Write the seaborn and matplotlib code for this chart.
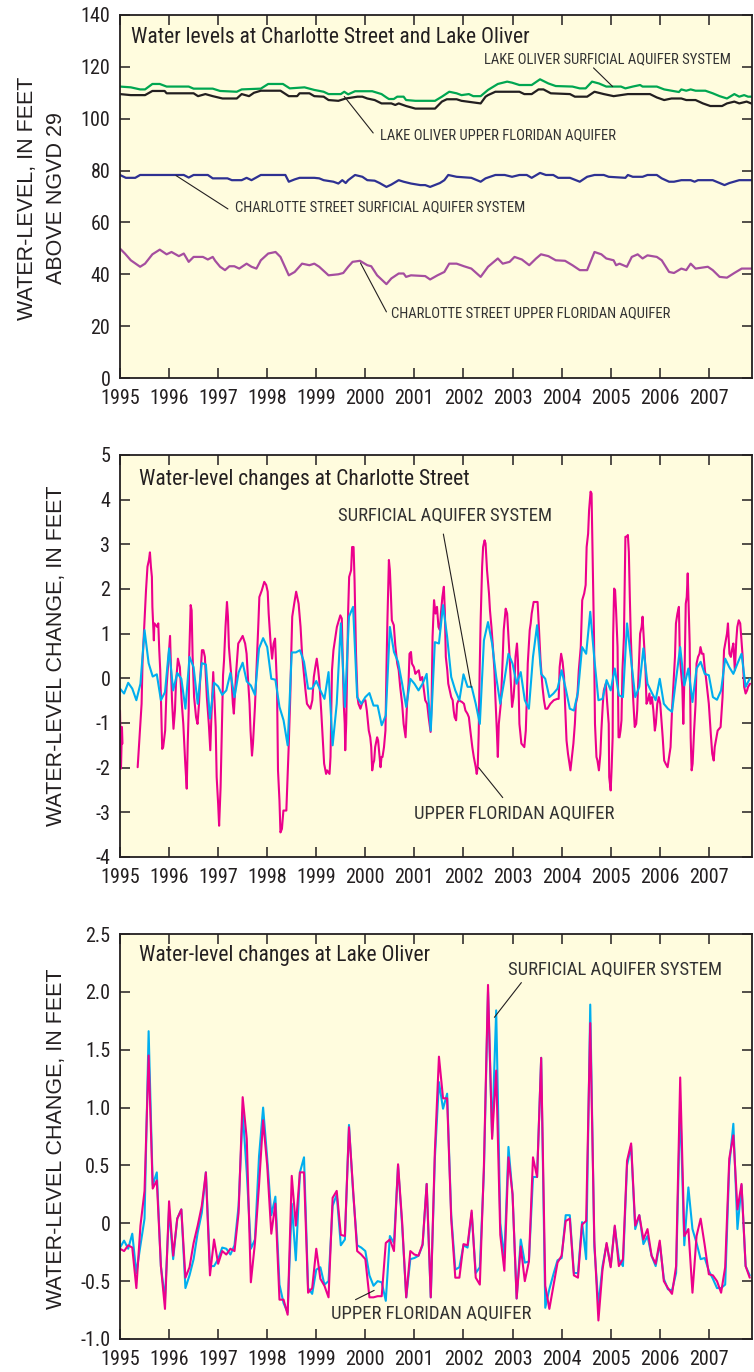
import numpy as np
import pandas as pd
import matplotlib
matplotlib.use("Agg")
import matplotlib.pyplot as plt
import seaborn as sns
from matplotlib import font_manager

# ---------------- DATA ----------------
year_ticks = list(range(1995, 2008))
year_labels = [str(y) for y in year_ticks]

# Panel 1: water levels (years since 1995, feet above NGVD 29)
lo_sas_t = [0.00, 0.22, 0.41, 0.51, 0.66, 0.81, 0.95, 1.40, 1.50, 1.89, 2.04, 2.38, 2.48, 2.87, 3.02, 3.32,
            3.46, 3.76, 3.96, 4.15, 4.25, 4.50, 4.57, 4.65, 4.79, 5.14, 5.33, 5.43, 5.48, 5.58, 5.65, 5.78,
            5.83, 6.02, 6.42, 6.56, 6.71, 6.86, 6.96, 7.11, 7.20, 7.35, 7.50, 7.70, 7.89, 7.99, 8.14, 8.39,
            8.56, 8.73, 8.88, 9.22, 9.37, 9.49, 9.62, 9.76, 9.91, 10.21, 10.30, 10.45, 10.60, 10.65, 10.94,
            11.09, 11.24, 11.39, 11.44, 11.54, 11.63, 11.73, 11.93, 12.08, 12.22, 12.37, 12.52, 12.62, 12.72,
            12.80, 12.89]
lo_sas_v = [112.4, 112.1, 111.3, 111.3, 113.4, 113.4, 112.4, 112.4, 111.6, 111.6, 110.7, 110.4, 111.3, 111.6,
            113.4, 113.4, 111.7, 112.1, 111.1, 110.4, 109.5, 109.5, 110.4, 109.4, 110.6, 110.6, 109.5, 108.2,
            107.6, 107.6, 108.5, 108.5, 107.2, 106.9, 106.9, 108.5, 110.4, 109.8, 109.1, 109.5, 108.7, 108.7,
            111.1, 113.4, 114.3, 113.9, 113.0, 113.0, 115.2, 113.6, 112.6, 112.4, 111.7, 111.7, 114.3, 113.6,
            112.4, 112.4, 111.7, 112.4, 113.0, 112.4, 112.4, 111.3, 110.8, 110.3, 111.3, 110.8, 111.3, 110.8,
            110.8, 109.8, 108.7, 107.8, 109.5, 108.5, 109.1, 108.5, 108.5]

lo_ufa_t = [0.00, 0.22, 0.51, 0.66, 0.91, 0.95, 1.50, 1.59, 1.74, 1.89, 2.09, 2.38, 2.48, 2.63, 2.73, 2.87,
            3.27, 3.44, 3.61, 3.66, 3.86, 3.96, 4.15, 4.25, 4.45, 4.60, 4.84, 4.94, 5.04, 5.19, 5.33, 5.53,
            5.61, 5.68, 5.83, 6.02, 6.42, 6.56, 6.66, 6.86, 6.96, 7.35, 7.45, 7.50, 7.65, 8.14, 8.24, 8.39,
            8.53, 8.63, 8.78, 9.17, 9.27, 9.52, 9.67, 9.86, 10.06, 10.35, 10.80, 10.94, 11.09, 11.24, 11.44,
            11.54, 11.73, 11.88, 12.03, 12.27, 12.37, 12.52, 12.62, 12.77, 12.89]
lo_ufa_v = [109.5, 109.1, 109.1, 110.7, 110.7, 109.8, 109.8, 108.7, 109.5, 108.7, 107.8, 107.8, 109.5, 108.7,
            110.0, 110.8, 110.8, 108.7, 108.7, 109.8, 109.8, 108.7, 108.5, 107.2, 106.9, 107.8, 108.5, 108.5,
            107.8, 107.2, 105.9, 105.9, 105.3, 105.9, 104.9, 103.9, 103.9, 106.6, 107.5, 107.5, 106.9, 105.9,
            108.5, 109.1, 110.4, 110.4, 109.5, 109.5, 111.3, 111.3, 109.8, 109.5, 108.5, 108.5, 110.4, 109.5,
            108.7, 109.5, 109.5, 108.2, 107.2, 107.8, 107.8, 107.2, 107.2, 105.9, 104.9, 104.9, 105.9, 106.6,
            105.9, 106.6, 105.7]

cs_sas_t = [0.00, 0.12, 0.31, 0.41, 1.30, 1.40, 1.50, 1.79, 1.89, 2.19, 2.28, 2.48, 2.58, 2.68, 2.87, 3.37,
            3.44, 3.56, 3.66, 3.96, 4.06, 4.15, 4.35, 4.45, 4.53, 4.60, 4.65, 4.79, 4.94, 5.04, 5.19, 5.29,
            5.43, 5.53, 5.68, 5.78, 5.93, 6.12, 6.22, 6.32, 6.52, 6.61, 6.69, 6.86, 7.16, 7.35, 7.45, 7.65,
            7.84, 7.99, 8.14, 8.29, 8.39, 8.56, 8.68, 8.83, 8.93, 9.17, 9.37, 9.52, 9.67, 9.86, 9.96, 10.30,
            10.35, 10.45, 10.65, 10.75, 10.94, 11.04, 11.19, 11.29, 11.44, 11.63, 11.71, 11.78, 12.08, 12.22,
            12.32, 12.42, 12.62, 12.89]
cs_sas_v = [78.3, 77.2, 77.2, 78.3, 78.3, 77.3, 78.3, 78.3, 77.0, 77.0, 76.3, 76.3, 77.2, 76.3, 78.3, 78.3,
            75.7, 76.6, 77.2, 77.2, 77.0, 76.3, 75.7, 75.0, 76.3, 75.2, 76.3, 78.3, 77.6, 76.3, 76.1, 75.2,
            73.7, 74.6, 76.3, 75.7, 75.0, 74.4, 74.4, 73.7, 75.2, 76.3, 78.3, 77.6, 77.2, 75.7, 77.0, 78.3,
            78.3, 77.6, 78.3, 78.3, 77.2, 79.1, 78.3, 78.3, 77.2, 77.2, 75.7, 77.6, 78.3, 78.3, 77.6, 77.2,
            78.3, 77.6, 77.6, 78.3, 78.3, 77.0, 75.7, 75.7, 76.3, 76.3, 75.7, 76.3, 76.3, 75.2, 74.4, 75.2,
            76.3, 76.3]

cs_ufa_t = [0.00, 0.10, 0.22, 0.41, 0.51, 0.66, 0.81, 0.95, 1.05, 1.20, 1.30, 1.40, 1.50, 1.69, 1.79, 1.89,
            1.94, 2.04, 2.14, 2.23, 2.33, 2.43, 2.58, 2.68, 2.78, 2.87, 3.02, 3.17, 3.27, 3.44, 3.56, 3.71,
            3.86, 3.96, 4.06, 4.25, 4.45, 4.55, 4.65, 4.74, 4.89, 5.04, 5.12, 5.24, 5.43, 5.53, 5.68, 5.78,
            5.83, 5.93, 6.22, 6.32, 6.47, 6.61, 6.71, 6.86, 7.01, 7.16, 7.35, 7.50, 7.70, 7.80, 7.94, 8.04,
            8.19, 8.34, 8.48, 8.58, 8.73, 8.88, 9.07, 9.22, 9.37, 9.52, 9.67, 9.81, 9.91, 10.06, 10.11, 10.18,
            10.33, 10.43, 10.55, 10.65, 10.75, 10.94, 11.04, 11.19, 11.29, 11.44, 11.54, 11.63, 11.73, 11.98,
            12.08, 12.22, 12.37, 12.52, 12.67, 12.89]
cs_ufa_v = [49.9, 48.0, 45.4, 42.9, 44.1, 47.7, 49.5, 47.7, 48.6, 47.0, 48.0, 44.8, 46.7, 46.7, 45.7, 46.7,
            45.2, 42.9, 41.6, 43.1, 43.1, 42.2, 44.1, 42.9, 42.2, 45.4, 48.0, 48.6, 46.7, 39.6, 40.9, 44.1,
            43.5, 44.1, 42.9, 39.6, 40.0, 40.5, 42.9, 44.8, 45.2, 43.5, 43.1, 39.6, 36.2, 38.4, 40.3, 40.3,
            39.0, 39.6, 39.3, 38.0, 39.6, 40.9, 44.1, 44.1, 43.1, 42.2, 39.0, 42.9, 46.1, 44.1, 44.8, 46.7,
            45.7, 43.5, 46.1, 47.7, 47.0, 45.4, 45.2, 43.5, 41.6, 41.6, 48.6, 47.7, 46.1, 45.4, 43.5, 44.1,
            42.9, 46.7, 47.7, 46.1, 47.3, 46.7, 45.4, 40.9, 40.5, 42.2, 41.6, 44.1, 42.2, 42.9, 41.6, 39.0,
            38.7, 40.5, 42.2, 42.2]

# Monthly series start January 1995
n_months = 155
month_years = 1995 + np.arange(n_months) / 12.0

# Panel 2: Charlotte Street changes
cs_sas_chg = [-0.23, -0.34, -0.10, -0.23, -0.49, -0.12, 1.08, 0.34, 0.04, 0.09, -0.49, -0.31,
              0.67, -0.27, 0.12, -0.01, -0.68, 0.48, 0.25, -0.57, 0.34, 0.31, -0.90, -0.10,
              -0.18, -0.37, -0.27, 0.12, -0.42, 0.13, 0.35, -0.07, -0.16, -0.37, 0.67, 0.90,
              0.70, -0.01, -0.03, -0.64, -0.94, -1.50, 0.58, 0.58, 0.63, 0.37, -0.23, -0.23,
              -0.06, -0.27, -0.46, 0.14, -1.50, -0.57, 1.23, -0.64, 1.38, 1.60, -0.42, -0.57,
              -0.42, -0.33, -0.61, -0.61, -1.05, -0.83, 1.15, 0.59, 0.37, -0.12, -0.64, -0.01,
              -0.12, -0.27, -0.12, 0.10, -1.17, 0.81, 0.78, 1.64, 0.93, 0.03, -0.27, -0.49,
              0.09, -0.19, -0.19, -0.57, -1.02, 0.85, 1.26, 0.78, 0.03, -0.57, -0.04, 0.55,
              0.33, -0.12, 0.14, -0.49, -0.68, 0.48, 1.19, 0.10, -0.01, -0.42, -0.34, -0.23,
              0.18, -0.23, -0.68, -0.72, -0.31, 0.70, 0.55, 1.49, 0.44, -0.49, -0.46, -0.04,
              -0.27, 0.22, -0.38, -0.42, 1.23, 0.40, -0.42, -0.19, 0.67, -0.12, -0.31, -0.49,
              -0.01, -0.57, -0.68, -0.75, -0.01, 0.70, -0.16, 0.22, -0.53, 0.22, 0.37, 0.10,
              0.07, -0.42, -0.48, -0.27, 0.44, 0.25, 0.10, 0.33, 0.55, -0.19, -0.01]

cs_ufa_chg_t1 = [1995.00, 1995.02, 1995.04, 1995.05]
cs_ufa_chg_v1 = [-0.72, -2.02, -1.09, -1.46]
cs_ufa_chg_t2 = [1995.36, 1995.39, 1995.44, 1995.46, 1995.53, 1995.56, 1995.59, 1995.61, 1995.63, 1995.65,
                 1995.66, 1995.69, 1995.70, 1995.76, 1995.78, 1995.80, 1995.82, 1995.84, 1995.86, 1995.88,
                 1995.92, 1995.95, 1995.99, 1996.02, 1996.04, 1996.06, 1996.09, 1996.12, 1996.14, 1996.18,
                 1996.22, 1996.26, 1996.29, 1996.33, 1996.36, 1996.38, 1996.40, 1996.41, 1996.44, 1996.46,
                 1996.48, 1996.51, 1996.55, 1996.58, 1996.61, 1996.63, 1996.67, 1996.70, 1996.73, 1996.77,
                 1996.81, 1996.84, 1996.86, 1996.90, 1996.95, 1996.97, 1997.00, 1997.02, 1997.05, 1997.07,
                 1997.10, 1997.12, 1997.15, 1997.18, 1997.20, 1997.22, 1997.27, 1997.30, 1997.32, 1997.37,
                 1997.41, 1997.45, 1997.50, 1997.55, 1997.58, 1997.61, 1997.64, 1997.66, 1997.69, 1997.71,
                 1997.75, 1997.79, 1997.82, 1997.84, 1997.89, 1997.94, 1997.98, 1998.01, 1998.03, 1998.07,
                 1998.10, 1998.13, 1998.16, 1998.20, 1998.22, 1998.25, 1998.27, 1998.30, 1998.33, 1998.39,
                 1998.41, 1998.44, 1998.47, 1998.49, 1998.51, 1998.55, 1998.59, 1998.64, 1998.68, 1998.71,
                 1998.78, 1998.81, 1998.88, 1998.92, 1998.95, 1998.98, 1999.01, 1999.04, 1999.06, 1999.10,
                 1999.13, 1999.16, 1999.20, 1999.22, 1999.27, 1999.29, 1999.32, 1999.35, 1999.42, 1999.49,
                 1999.52, 1999.56, 1999.58, 1999.59, 1999.61, 1999.65, 1999.67, 1999.71, 1999.73, 1999.76,
                 1999.78, 1999.81, 1999.84, 1999.86, 1999.90, 1999.93, 1999.97, 2000.00, 2000.03, 2000.07,
                 2000.10, 2000.12, 2000.14, 2000.16, 2000.18, 2000.20, 2000.24, 2000.26, 2000.29, 2000.31,
                 2000.33, 2000.35, 2000.38, 2000.41, 2000.43, 2000.45, 2000.48, 2000.50, 2000.52, 2000.54,
                 2000.58, 2000.61, 2000.65, 2000.68, 2000.71, 2000.75, 2000.78, 2000.82, 2000.85, 2000.88,
                 2000.90, 2000.93, 2000.95, 2000.99, 2001.02, 2001.05, 2001.09, 2001.12, 2001.16, 2001.19,
                 2001.22, 2001.26, 2001.29, 2001.33, 2001.35, 2001.37, 2001.40, 2001.43, 2001.46, 2001.49,
                 2001.52, 2001.54, 2001.57, 2001.60, 2001.62, 2001.64, 2001.67, 2001.69, 2001.72, 2001.75,
                 2001.78, 2001.80, 2001.82, 2001.85, 2001.87, 2001.90, 2001.97, 2002.01, 2002.04, 2002.08,
                 2002.11, 2002.14, 2002.18, 2002.21, 2002.25, 2002.27, 2002.29, 2002.31, 2002.33, 2002.35,
                 2002.38, 2002.40, 2002.43, 2002.45, 2002.48, 2002.52, 2002.54, 2002.57, 2002.60, 2002.63,
                 2002.65, 2002.68, 2002.70, 2002.72, 2002.76, 2002.79, 2002.82, 2002.86, 2002.89, 2002.94,
                 2002.97, 2002.99, 2003.02, 2003.04, 2003.06, 2003.09, 2003.11, 2003.14, 2003.18, 2003.24,
                 2003.27, 2003.29, 2003.31, 2003.35, 2003.37, 2003.39, 2003.43, 2003.51, 2003.54, 2003.57,
                 2003.61, 2003.64, 2003.67, 2003.71, 2003.77, 2003.84, 2003.91, 2003.94, 2003.96, 2003.99,
                 2004.02, 2004.05, 2004.07, 2004.10, 2004.13, 2004.16, 2004.18, 2004.21, 2004.24, 2004.27,
                 2004.29, 2004.32, 2004.35, 2004.39, 2004.42, 2004.46, 2004.49, 2004.51, 2004.54, 2004.56,
                 2004.59, 2004.61, 2004.63, 2004.66, 2004.68, 2004.71, 2004.73, 2004.76, 2004.79, 2004.81,
                 2004.84, 2004.86, 2004.90, 2004.93, 2004.96, 2004.97, 2005.00, 2005.02, 2005.04, 2005.05,
                 2005.07, 2005.09, 2005.11, 2005.14, 2005.16, 2005.18, 2005.20, 2005.22, 2005.24, 2005.27,
                 2005.30, 2005.33, 2005.35, 2005.37, 2005.39, 2005.41, 2005.44, 2005.46, 2005.49, 2005.52,
                 2005.54, 2005.57, 2005.60, 2005.63, 2005.65, 2005.68, 2005.71, 2005.73, 2005.76, 2005.79,
                 2005.81, 2005.84, 2005.87, 2005.90, 2005.92, 2005.95, 2005.98, 2006.01, 2006.03, 2006.06,
                 2006.09, 2006.12, 2006.16, 2006.19, 2006.22, 2006.25, 2006.28, 2006.31, 2006.33, 2006.36,
                 2006.39, 2006.41, 2006.46, 2006.48, 2006.51, 2006.53, 2006.55, 2006.57, 2006.59, 2006.61,
                 2006.63, 2006.65, 2006.67, 2006.70, 2006.73, 2006.75, 2006.78, 2006.81, 2006.83, 2006.86,
                 2006.89, 2006.92, 2006.94, 2006.97, 2007.00, 2007.04, 2007.07, 2007.10, 2007.12, 2007.18,
                 2007.24, 2007.28, 2007.31, 2007.37, 2007.39, 2007.42, 2007.45, 2007.47, 2007.50, 2007.53,
                 2007.56, 2007.58, 2007.61, 2007.64, 2007.67, 2007.69, 2007.72, 2007.75, 2007.78, 2007.80,
                 2007.84]
cs_ufa_chg_v2 = [-1.99, -1.46, -0.57, 0.40, 1.97, 2.50, 2.65, 2.82, 2.50, 2.27,
                 1.60, 0.85, 1.23, 1.15, 1.23, 0.63, 0.18, -0.72, -1.58, -1.54,
                 -1.17, -0.19, 0.48, 0.95, 0.18, -0.49, -1.13, -0.72, -0.12, 0.44,
                 0.25, -0.57, -1.02, -1.91, -2.47, -1.46, -0.72, 0.48, 1.64, 1.52,
                 0.48, -0.42, -0.87, -1.02, -0.57, -0.12, 0.63, 0.63, 0.48, -0.42,
                 -1.02, -1.61, -0.94, 0.14, -1.09, -2.21, -2.81, -3.30, -2.44, -1.46,
                 0.07, 0.40, 1.15, 1.71, 1.38, 0.70, 0.03, -0.57, -0.79, 0.18,
                 0.78, 0.85, 0.95, 0.78, 0.55, -0.04, -0.57, -1.17, -1.73, -1.46,
                 -0.64, 0.40, 1.23, 1.82, 1.97, 2.16, 2.09, 1.94, 1.45, 0.78,
                 0.44, 0.78, 0.89, -0.19, -2.06, -2.74, -3.45, -3.37, -2.96, -2.96,
                 -2.36, -1.46, -0.42, 0.55, 1.38, 1.67, 1.94, 1.67, 1.15, 0.55,
                 -0.27, -0.57, -0.68, -0.49, 0.03, 0.25, 0.44, 0.18, -0.04, -0.72,
                 -1.32, -1.91, -2.14, -2.06, -2.14, -1.76, 0.18, 0.63, 1.15, 1.41,
                 1.34, -0.57, -1.02, -1.61, -1.02, 1.52, 2.27, 2.42, 2.94, 2.94,
                 2.20, 0.55, -0.42, -0.57, -0.68, -0.57, -0.49, -0.49, -0.72, -1.17,
                 -1.32, -1.54, -2.06, -1.91, -1.84, -1.54, -1.32, -1.39, -1.76, -1.99,
                 -1.76, -1.76, -1.54, -1.17, 0.18, 1.30, 2.65, 2.42, 1.90, 1.30,
                 1.19, 0.74, 0.33, 0.18, -0.19, -0.57, -1.02, -1.32, -0.57, -0.12,
                 0.55, 0.59, 0.33, 0.25, 0.10, 0.14, 0.18, -0.04, 0.03, -0.23,
                 -0.49, -0.57, -0.87, -1.20, -0.57, 0.93, 1.75, 1.45, 1.60, 1.15,
                 1.08, 1.45, 1.82, 2.05, 1.52, 0.48, 0.18, -0.12, -0.27, -0.42,
                 -0.49, -0.72, -0.87, -0.94, -0.57, -0.49, -0.53, -0.57, -0.72, -0.79,
                 -0.87, -1.17, -1.54, -1.76, -1.99, -2.14, -1.99, -1.24, 0.18, 1.30,
                 2.50, 2.94, 3.09, 3.02, 2.42, 1.90, 1.52, 1.15, 0.70, 0.18,
                 -0.42, -1.17, -1.76, -1.02, -0.57, 0.18, 1.08, 1.56, 1.45, 0.48,
                 -0.19, -0.64, -0.42, -0.12, 0.48, 0.78, 0.40, -1.02, -1.46, -1.54,
                 -1.17, -0.49, 0.33, 1.08, 1.23, 1.45, 1.71, 1.71, 1.08, 0.40,
                 -0.19, -0.49, -0.68, -0.68, -0.57, -0.49, -0.46, -0.46, 0.25, 0.55,
                 0.37, 0.03, -0.57, -1.39, -1.69, -1.91, -2.06, -1.76, -1.46, -1.02,
                 -0.57, -0.42, 0.18, 0.70, 1.75, 1.90, 2.09, 2.94, 3.24, 3.77,
                 4.18, 4.14, 2.87, 0.93, -1.02, -1.76, -1.84, -2.06, -1.69, -1.17,
                 -0.57, -0.27, -0.12, -0.57, -1.02, -2.21, -2.51, -1.99, -1.32, 0.93,
                 2.01, 1.97, 1.52, 0.70, -1.32, -1.32, -1.17, -0.94, 0.18, 0.93,
                 3.17, 3.17, 3.21, 2.83, 1.82, 0.93, 0.03, -0.49, -1.09, -1.02,
                 -0.72, 0.18, 1.00, 1.15, 1.38, 0.78, 0.18, -0.57, -0.49, -0.34,
                 -0.57, -0.42, -0.72, -1.17, -1.02, -0.57, -0.42, -0.57, -0.87, -1.32,
                 -1.84, -1.91, -1.99, -1.76, -1.54, -0.72, -0.12, 0.48, 1.23, 1.45,
                 1.60, 0.48, -0.19, -1.02, 0.40, 1.67, 1.82, 2.35, 1.52, 0.78,
                 -1.32, -2.06, -1.91, -1.17, -0.57, 0.33, 0.48, 0.55, 0.70, 0.55,
                 0.55, 0.18, 0.03, -0.27, -0.57, -1.24, -1.69, -1.84, -1.54, -1.17,
                 -1.09, -0.42, 0.63, 1.00, 1.23, 0.55, 0.48, 0.63, 0.78, 0.18,
                 0.85, 1.15, 1.30, 1.23, 0.78, 0.48, -0.19, -0.34, -0.27, -0.19,
                 -0.12]

# Panel 3: Lake Oliver changes (monthly)
lo_sas_chg = [-0.21, -0.15, -0.22, -0.09, -0.43, -0.19, 0.04, 1.66, 0.33, 0.44, -0.37, -0.66,
              0.12, -0.31, 0.04, 0.12, -0.56, -0.45, -0.31, -0.08, 0.09, 0.44, -0.37, -0.37,
              -0.31, -0.21, -0.22, -0.27, -0.19, 0.15, 0.96, 0.44, -0.22, -0.14, 0.58, 1.00,
              0.56, 0.07, 0.23, -0.53, -0.69, -0.77, 0.17, -0.32, 0.44, 0.57, -0.56, -0.61,
              -0.40, -0.38, -0.53, -0.50, 0.15, 0.25, -0.19, -0.14, 0.85, 0.27, -0.19, -0.21,
              -0.24, -0.45, -0.54, -0.50, -0.51, -0.67, -0.11, -0.17, 0.50, -0.02, -0.64, -0.31,
              -0.30, -0.28, -0.19, 0.34, -0.64, 0.56, 1.22, 0.99, 1.12, 0.07, -0.40, -0.38,
              -0.19, -0.21, 0.09, -0.43, -0.38, 0.45, 2.00, 0.75, 1.84, 0.00, -0.30, 0.66,
              0.25, -0.65, -0.14, -0.34, -0.33, 0.40, 0.40, 1.43, -0.73, -0.57, -0.44, -0.32,
              -0.30, 0.07, 0.07, -0.43, -0.43, 0.01, -0.31, 1.89, -0.20, -0.71, -0.37, -0.18,
              -0.37, -0.03, -0.31, -0.37, 0.50, 0.67, -0.05, 0.07, -0.18, -0.11, -0.28, -0.37,
              -0.17, -0.48, -0.57, -0.58, -0.43, 1.05, -0.19, 0.31, -0.05, -0.17, -0.31, -0.30,
              -0.41, -0.48, -0.56, -0.56, -0.53, 0.50, 0.86, -0.05, 0.33, -0.37, -0.45]
lo_ufa_chg = [-0.22, -0.24, -0.19, -0.21, -0.56, -0.02, 0.28, 1.45, 0.30, 0.37, -0.37, -0.74,
              0.19, -0.28, 0.04, 0.12, -0.47, -0.38, -0.17, -0.02, 0.15, 0.44, -0.45, -0.14,
              -0.35, -0.24, -0.27, -0.22, -0.24, 0.09, 1.09, 0.73, -0.51, -0.17, 0.33, 0.89,
              0.50, -0.09, 0.17, -0.66, -0.66, -0.79, 0.41, -0.02, 0.44, 0.44, -0.60, -0.56,
              -0.22, -0.48, -0.54, -0.64, 0.22, 0.28, -0.10, -0.11, 0.83, 0.30, -0.24, -0.27,
              -0.31, -0.64, -0.64, -0.63, -0.63, -0.17, -0.14, -0.24, 0.51, 0.01, -0.64, -0.24,
              -0.27, -0.28, -0.18, 0.34, -0.64, 0.62, 1.44, 1.08, 1.08, 0.04, -0.47, -0.47,
              -0.18, -0.19, 0.11, -0.47, -0.53, 0.50, 2.06, 0.73, 1.32, -0.10, -0.41, 0.57,
              0.25, -0.65, -0.20, -0.50, -0.33, 0.57, 0.40, 1.43, -0.54, -0.74, -0.54, -0.34,
              -0.28, 0.02, 0.04, -0.45, -0.47, -0.01, 0.02, 1.73, -0.15, -0.84, -0.40, -0.17,
              -0.38, -0.02, -0.37, -0.31, 0.54, 0.69, -0.02, 0.07, -0.14, -0.05, -0.28, -0.35,
              -0.15, -0.50, -0.56, -0.61, -0.37, 1.26, -0.11, -0.05, -0.60, -0.11, 0.04, -0.19,
              -0.44, -0.45, -0.50, -0.60, -0.38, 0.56, 0.76, 0.12, 0.34, -0.37, -0.47]

p1_yticks = [0, 20, 40, 60, 80, 100, 120, 140]
p2_yticks = [-4, -3, -2, -1, 0, 1, 2, 3, 4, 5]
p3_yticks = [-1.0, -0.5, 0, 0.5, 1.0, 1.5, 2.0, 2.5]
p3_ylabels = ["-1.0", "-0.5", "0", "0.5", "1.0", "1.5", "2.0", "2.5"]

# ---------------- STYLE ----------------
sns.set_theme(style="white")
avail = {f.name for f in font_manager.fontManager.ttflist}
COND = "DejaVu Sans"
for cand in ["Roboto Condensed", "Archivo Narrow", "PT Sans Narrow", "Asap Condensed",
             "Barlow Semi Condensed"]:
    if cand in avail:
        COND = cand
        break
ARIAL = "Liberation Sans" if "Liberation Sans" in avail else "DejaVu Sans"
plt.rcParams["font.family"] = [COND, "DejaVu Sans"]

BG = "#FFFCDE"
INK = "#231F20"
GREEN = "#00A651"
BLACK = "#231F20"
BLUE = "#2E3192"
PURPLE = "#A54E9F"
MAGENTA = "#EC008C"
CYAN = "#00AEEF"

W, H = 754, 1372
fig = plt.figure(figsize=(W / 100, H / 100), dpi=100)


def axes_px(left, right, top, bottom):
    return fig.add_axes([left / W, 1 - bottom / H, (right - left) / W, (bottom - top) / H])


ax1 = axes_px(120, 752, 15, 378)
ax2 = axes_px(120, 752, 455, 857)
ax3 = axes_px(120, 752, 934, 1339)


def style(ax, ylim, yticks, ylabels):
    ax.set_facecolor(BG)
    ax.set_xlim(1995, 2007.88)
    ax.set_ylim(*ylim)
    ax.set_xticks(year_ticks)
    ax.set_xticklabels(year_labels)
    ax.set_yticks(yticks)
    ax.set_yticklabels(ylabels)
    ax.tick_params(axis="both", which="major", direction="in", length=7, width=1.1,
                   top=True, right=True, bottom=True, left=True, color=INK,
                   labelcolor=INK, labelsize=14.5)
    ax.tick_params(axis="x", pad=8)
    ax.tick_params(axis="y", pad=7)
    for s in ax.spines.values():
        s.set_color(INK)
        s.set_linewidth(1.3)
    ax.set_xlabel("")
    ax.set_ylabel("")
    ax.grid(False)


def leader(ax, start, end):
    ax.annotate("", xy=end, xytext=start,
                arrowprops=dict(arrowstyle="-", color=INK, lw=0.8, shrinkA=0, shrinkB=0))


# ---------------- PANEL 1 ----------------
for t, v, c in [(lo_sas_t, lo_sas_v, GREEN), (lo_ufa_t, lo_ufa_v, BLACK),
                (cs_sas_t, cs_sas_v, BLUE), (cs_ufa_t, cs_ufa_v, PURPLE)]:
    sns.lineplot(x=np.array(t) + 1995, y=v, ax=ax1, color=c, lw=1.6,
                 estimator=None, sort=False, legend=False)
style(ax1, (0, 140), p1_yticks, [str(v) for v in p1_yticks])
ax1.text(0.018, 0.937, "Water levels at Charlotte Street and Lake Oliver", transform=ax1.transAxes,
         fontsize=15.5, color=INK, ha="left", va="center")
lab = dict(fontsize=10.5, color="#333333", ha="left", va="center")
ax1.text(2002.41, 123.0, "LAKE OLIVER SURFICIAL AQUIFER SYSTEM", **lab)
leader(ax1, (2004.65, 119.6), (2005.04, 112.4))
ax1.text(2000.29, 93.7, "LAKE OLIVER UPPER FLORIDAN AQUIFER", **lab)
leader(ax1, (2000.16, 94.5), (1999.57, 108.6))
ax1.text(1997.35, 66.0, "CHARLOTTE STREET SURFICIAL AQUIFER SYSTEM", **lab)
leader(ax1, (1997.20, 65.2), (1996.14, 78.1))
ax1.text(2000.53, 25.1, "CHARLOTTE STREET UPPER FLORIDAN AQUIFER", **lab)
leader(ax1, (2000.43, 25.5), (1999.90, 44.4))

# ---------------- PANEL 2 ----------------
sns.lineplot(x=cs_ufa_chg_t1, y=cs_ufa_chg_v1, ax=ax2, color=MAGENTA, lw=1.5,
             estimator=None, sort=False, legend=False)
sns.lineplot(x=cs_ufa_chg_t2, y=cs_ufa_chg_v2, ax=ax2, color=MAGENTA, lw=1.5,
             estimator=None, sort=False, legend=False)
sns.lineplot(x=month_years, y=cs_sas_chg, ax=ax2, color=CYAN, lw=1.5,
             estimator=None, sort=False, legend=False)
style(ax2, (-4, 5), p2_yticks, [str(v) for v in p2_yticks])
ax2.text(0.030, 0.938, "Water-level changes at Charlotte Street", transform=ax2.transAxes,
         fontsize=15.5, color=INK, ha="left", va="center")
lab2 = dict(fontsize=13.5, color="#333333", ha="left", va="center")
ax2.text(1999.45, 3.63, "SURFICIAL AQUIFER SYSTEM", **lab2)
leader(ax2, (2001.59, 3.23), (2002.16, -0.20))
ax2.text(2001.0, -3.03, "UPPER FLORIDAN AQUIFER", **lab2)
leader(ax2, (2002.80, -2.67), (2002.31, -2.0))

# ---------------- PANEL 3 ----------------
sns.lineplot(x=month_years, y=lo_sas_chg, ax=ax3, color=CYAN, lw=1.5,
             estimator=None, sort=False, legend=False)
sns.lineplot(x=month_years, y=lo_ufa_chg, ax=ax3, color=MAGENTA, lw=1.5,
             estimator=None, sort=False, legend=False)
style(ax3, (-1.0, 2.5), p3_yticks, p3_ylabels)
ax3.text(0.030, 0.946, "Water-level changes at Lake Oliver", transform=ax3.transAxes,
         fontsize=15.5, color=INK, ha="left", va="center")
ax3.text(2002.90, 2.19, "SURFICIAL AQUIFER SYSTEM", **lab2)
leader(ax3, (2003.18, 2.08), (2002.63, 1.78))
ax3.text(1999.29, -0.78, "UPPER FLORIDAN AQUIFER", **lab2)
leader(ax3, (1999.80, -0.66), (2000.18, -0.58))

# ---------------- Y LABELS ----------------
ylab = dict(rotation=90, ha="center", va="center", fontsize=15.5, color=INK, family=[ARIAL, "DejaVu Sans"])
fig.text(42 / W, 1 - 198 / H, "WATER-LEVEL, IN FEET\nABOVE NGVD 29", linespacing=1.5, **ylab)
fig.text(57 / W, 1 - 656 / H, "WATER-LEVEL CHANGE, IN FEET", **ylab)
fig.text(57 / W, 1 - 1139 / H, "WATER-LEVEL CHANGE, IN FEET", **ylab)

fig.savefig("out.png", dpi=100, facecolor="white")
